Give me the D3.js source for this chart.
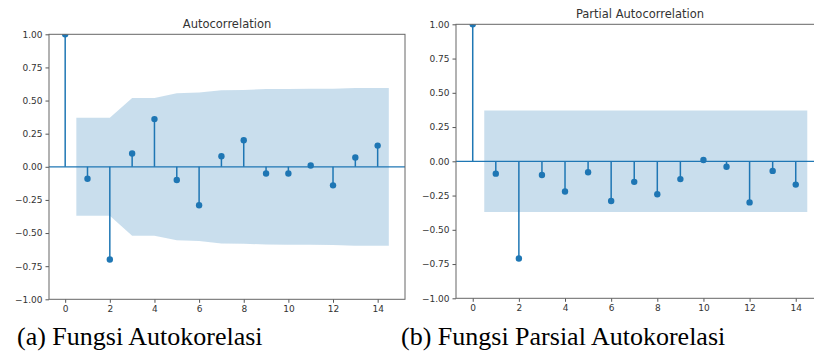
<!DOCTYPE html>
<html>
<head>
<meta charset="utf-8">
<script src="https://cdn.jsdelivr.net/npm/d3@7"></script>
<style>
  body { margin: 0; background: #fff; }
  svg { display: block; }
</style>
</head>
<body>
<div id="grafica"></div>
<script>
  // datos
  const lags = [0, 1, 2, 3, 4, 5, 6, 7, 8, 9, 10, 11, 12, 13, 14];
  const acfValues = [1, -0.09, -0.70, 0.10, 0.36, -0.10, -0.29, 0.08, 0.20, -0.05, -0.05, 0.01, -0.14, 0.07, 0.16];
  // banda de confianza (lag 1..14)
  const acfBand = [0.37, 0.37, 0.52, 0.52, 0.555, 0.56, 0.578, 0.58, 0.587, 0.588, 0.589, 0.59, 0.595, 0.595];
  const pacfValues = [1, -0.09, -0.71, -0.10, -0.22, -0.08, -0.29, -0.15, -0.24, -0.13, 0.01, -0.04, -0.30, -0.07, -0.17];
  const pacfBand = [0.37, 0.37, 0.37, 0.37, 0.37, 0.37, 0.37, 0.37, 0.37, 0.37, 0.37, 0.37, 0.37, 0.37];
  const yTicks = [-1, -0.75, -0.5, -0.25, 0, 0.25, 0.5, 0.75, 1];
  const xTicks = [0, 2, 4, 6, 8, 10, 12, 14];
  const titles = ["Autocorrelation", "Partial Autocorrelation"];
  const captions = ["(a) Fungsi Autokorelasi", "(b) Fungsi Parsial Autokorelasi"];

  const width = 814, height = 356;
  const azul = "#1f77b4";

  const svg = d3.select("#grafica")
    .append("svg")
    .attr("width", width)
    .attr("height", height);

  function panel(id, caja, valores, banda, titulo, captionX, caption) {
    const x = d3.scaleLinear().domain([-0.725, 15.225]).range([caja.x0, caja.x1]);
    const y = d3.scaleLinear().domain([-1, 1]).range([caja.y1, caja.y0]);

    svg.append("clipPath").attr("id", "clip" + id)
      .append("rect")
      .attr("x", caja.x0).attr("y", caja.y0)
      .attr("width", caja.x1 - caja.x0).attr("height", caja.y1 - caja.y0);

    const g = svg.append("g").attr("clip-path", `url(#clip${id})`);

    // stems
    g.selectAll("line.stem")
      .data(lags)
      .enter()
      .append("line")
      .attr("class", "stem")
      .attr("x1", d => x(d)).attr("x2", d => x(d))
      .attr("y1", y(0)).attr("y2", d => y(valores[d]))
      .attr("stroke", azul)
      .attr("stroke-width", 1.5);

    // linea cero
    g.append("line")
      .attr("x1", caja.x0).attr("x2", caja.x1)
      .attr("y1", y(0)).attr("y2", y(0))
      .attr("stroke", azul)
      .attr("stroke-width", 1.3);

    // puntos
    g.selectAll("circle")
      .data(lags)
      .enter()
      .append("circle")
      .attr("cx", d => x(d))
      .attr("cy", d => y(valores[d]))
      .attr("r", 3.2)
      .attr("fill", azul);

    // banda: x = 0.5, 2, 3, ..., 13, 14.5
    const bandX = lags.slice(1).map((d, i, a) => i === 0 ? d - 0.5 : i === a.length - 1 ? d + 0.5 : d);
    const area = d3.area()
      .x((d, i) => x(bandX[i]))
      .y0(d => y(-d))
      .y1(d => y(d));
    g.append("path")
      .attr("d", area(banda))
      .attr("fill", azul)
      .attr("fill-opacity", 0.24);

    // ejes
    const ejeY = svg.append("g")
      .attr("transform", `translate(${caja.x0},0)`)
      .call(d3.axisLeft(y).tickValues(yTicks).tickFormat(d3.format(".2f")).tickSizeOuter(0).tickSize(3.5).tickPadding(3));
    const ejeX = svg.append("g")
      .attr("transform", `translate(0,${caja.y1})`)
      .call(d3.axisBottom(x).tickValues(xTicks).tickSizeOuter(0).tickSize(3.5).tickPadding(3));
    [ejeY, ejeX].forEach(e => {
      e.select(".domain").remove();
      e.selectAll("line").attr("stroke", "#555");
      e.selectAll("text")
        .attr("fill", "#333")
        .style("font-family", "DejaVu Sans")
        .style("font-size", "9px");
    });

    // marco
    svg.append("rect")
      .attr("x", caja.x0).attr("y", caja.y0)
      .attr("width", caja.x1 - caja.x0).attr("height", caja.y1 - caja.y0)
      .attr("fill", "none")
      .attr("stroke", "#666")
      .attr("stroke-width", 1);

    // titulo
    svg.append("text")
      .attr("x", (caja.x0 + caja.x1) / 2)
      .attr("y", caja.y0 - 6)
      .attr("text-anchor", "middle")
      .style("font-family", "DejaVu Sans")
      .style("font-size", "11.5px")
      .attr("fill", "#333")
      .text(titulo);

    // leyenda de figura
    svg.append("text")
      .attr("x", captionX)
      .attr("y", 345)
      .style("font-family", "Liberation Serif")
      .style("font-size", "26px")
      .attr("fill", "#000")
      .text(caption);
  }

  panel("a", { x0: 49, x1: 405, y0: 34.3, y1: 299.3 }, acfValues, acfBand, titles[0], 17, captions[0]);
  panel("b", { x0: 456, x1: 824, y0: 24.3, y1: 298.3 }, pacfValues, pacfBand, titles[1], 401, captions[1]);
</script>
</body>
</html>
